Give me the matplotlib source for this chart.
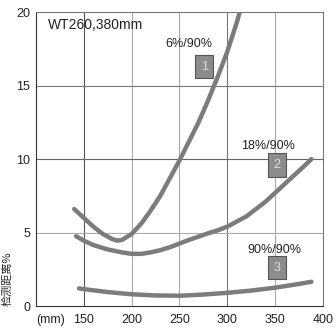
import matplotlib.pyplot as plt

plt.rcParams['font.family'] = ['Liberation Sans', 'DejaVu Sans']

# curve 1: 6%/90%
x1 = [140, 150, 160, 170, 180, 185, 190, 200, 210, 220, 230, 240, 250,
      260, 270, 280, 290, 300, 310, 313]
y1 = [6.6, 6.0, 5.4, 4.9, 4.55, 4.45, 4.5, 4.9, 5.6, 6.5, 7.5, 8.7, 9.9,
      11.2, 12.5, 14.0, 15.6, 17.3, 19.3, 20.0]

# curve 2: 18%/90%
x2 = [142, 150, 160, 175, 190, 200, 210, 220, 230, 240, 250, 260, 270,
      280, 290, 300, 310, 320, 330, 340, 350, 360, 370, 380, 388]
y2 = [4.75, 4.45, 4.15, 3.85, 3.65, 3.55, 3.55, 3.65, 3.8, 4.0, 4.25, 4.5,
      4.72, 4.95, 5.15, 5.4, 5.75, 6.1, 6.6, 7.1, 7.7, 8.3, 8.9, 9.5, 10.0]

# curve 3: 90%/90%
x3 = [145, 150, 175, 200, 225, 250, 275, 300, 325, 350, 370, 388]
y3 = [1.2, 1.15, 0.95, 0.8, 0.72, 0.7, 0.78, 0.9, 1.05, 1.25, 1.45, 1.65]

xticks = [100, 150, 200, 250, 300, 350, 400]
xticklabels = ["(mm)", "150", "200", "250", "300", "350", "400"]
yticks = [0, 5, 10, 15, 20]

fig = plt.figure(figsize=(3.36, 3.28), dpi=100)
ax = fig.add_axes([0.107, 0.067, 0.854, 0.896])

# grid
for gx, c in zip([150, 200, 250, 300, 350], ['#555555', '#aaaaaa', '#aaaaaa', '#777777', '#aaaaaa']):
    ax.axvline(gx, color=c, lw=0.8, zorder=1)
for gy, c in zip([5, 10, 15], ['#aaaaaa', '#666666', '#777777']):
    ax.axhline(gy, color=c, lw=0.8, zorder=1)

for xs, ys in [(x1, y1), (x2, y2), (x3, y3)]:
    ax.plot(xs, ys, color='#7c7c7c', lw=3.2, solid_capstyle='round', zorder=3)

ax.set_xlim(100, 400)
ax.set_ylim(0, 20)
ax.set_xticks(xticks)
ax.set_xticklabels(xticklabels)
ax.set_yticks(yticks)
ax.get_xticklabels()[0].set_ha('left')
ax.tick_params(length=0, labelsize=9, colors='#222222')
ax.tick_params(axis='x', pad=6)
ax.tick_params(axis='y', pad=4)
ax.spines['left'].set_color('#333333')
ax.spines['bottom'].set_color('#333333')
ax.spines['top'].set_color('#777777')
ax.spines['right'].set_color('#777777')

ax.text(112.5, 19.1, "WT260,380mm", fontsize=10, va='center', ha='left', color='#222222')
ax.text(260, 17.8, "6%/90%", fontsize=9, ha='center', va='center', color='#222222')
ax.text(343, 10.9, "18%/90%", fontsize=9, ha='center', va='center', color='#222222')
ax.text(349, 3.8, "90%/90%", fontsize=9, ha='center', va='center', color='#222222')

box = dict(boxstyle='square,pad=0.45', facecolor='#8c8c8c', edgecolor='#555555', lw=0.8)
for bx, by, s in [(276, 16.3, "1"), (352, 9.6, "2"), (352, 2.6, "3")]:
    ax.text(bx, by, s, fontsize=9, ha='center', va='center', color='#dddddd', bbox=box, zorder=5)

fig.text(0.022, 0.15, "检测距离%", rotation=90, fontsize=8, ha='center', va='center',
         family=['Noto Sans CJK SC', 'DejaVu Sans'], color='#222222')

fig.savefig("out.png", dpi=100)
